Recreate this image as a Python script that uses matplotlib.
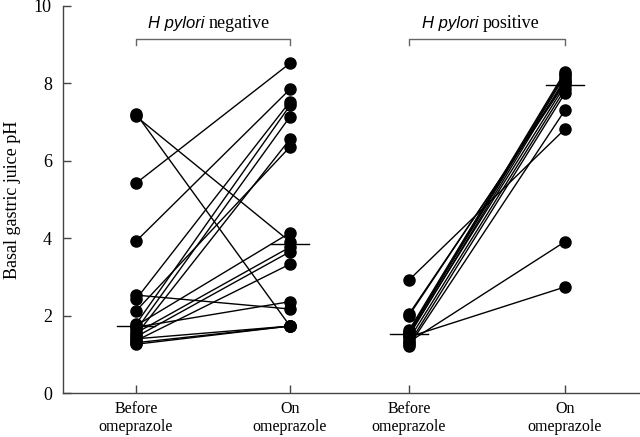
import numpy as np
import matplotlib
matplotlib.use("Agg")
import matplotlib.pyplot as plt

# ---- data (basal gastric juice pH, paired before / on omeprazole) ----
neg_before = [7.22, 7.15, 5.42, 3.92, 2.53, 2.42, 2.12, 1.78, 1.74,
              1.70, 1.62, 1.55, 1.50, 1.45, 1.40, 1.35, 1.30, 1.26]
neg_on = [1.73, 3.91, 8.52, 7.85, 2.17, 7.53, 6.36, 7.43, 4.14,
          2.36, 7.14, 3.77, 6.56, 3.65, 1.73, 3.33, 1.73, 1.73]

pos_before = [2.92, 2.04, 2.00, 1.62, 1.58, 1.55, 1.52, 1.48, 1.45,
              1.38, 1.32, 1.27, 1.22]
pos_on = [6.82, 8.00, 8.05, 8.30, 8.25, 8.20, 7.95, 8.12, 2.74,
          7.85, 3.91, 7.75, 7.31]

tick_labels = ["Before\nomeprazole", "On\nomeprazole",
               "Before\nomeprazole", "On\nomeprazole"]
group_names = ["negative", "positive"]

# x positions of the four columns (layout only)
xpos = [73, 227, 346, 502]

serif = ["Liberation Serif", "DejaVu Serif"]
sans = ["Liberation Sans", "DejaVu Sans"]
axcol = "#444444"

fig = plt.figure(figsize=(6.4, 4.37), dpi=100)
ax = fig.add_axes([63 / 640, 1 - 393 / 437, 1 - 63 / 640, (393 - 6) / 437])

groups = [(neg_before, neg_on, xpos[0], xpos[1]),
          (pos_before, pos_on, xpos[2], xpos[3])]

for before, after, x0, x1 in groups:
    for b, a in zip(before, after):
        ax.plot([x0, x1], [b, a], color="black", lw=1.0, zorder=2)
    ax.plot([x0] * len(before), before, "o", color="black", ms=8, zorder=3)
    ax.plot([x1] * len(after), after, "o", color="black", ms=8, zorder=3)
    # medians
    for x, vals in ((x0, before), (x1, after)):
        m = np.median(vals)
        ax.plot([x - 19, x + 19], [m, m], color="black", lw=1.0, zorder=4)

# brackets + group labels
for (x0, x1), name in zip([(xpos[0], xpos[1]), (xpos[2], xpos[3])], group_names):
    ax.plot([x0, x0, x1, x1], [8.98, 9.15, 9.15, 8.98], color="#666666", lw=1.0,
            clip_on=False)
    xc = (x0 + x1) / 2
    ax.text(xc - 4, 9.55, "H pylori ", family=sans, style="italic",
            fontsize=12, ha="right", va="center")
    ax.text(xc - 4, 9.55, name, family=serif, fontsize=13, ha="left", va="center")

ax.set_xlim(0, 577)
ax.set_ylim(0, 10)
ax.set_yticks([0, 2, 4, 6, 8, 10])
ax.set_xticks(xpos)
ax.set_xticklabels(tick_labels, family=serif, fontsize=11.5, linespacing=1.15)
for lab in ax.get_yticklabels():
    lab.set_family(serif)
    lab.set_fontsize(13)
ax.set_ylabel("Basal gastric juice pH", family=serif, fontsize=13, labelpad=9)

for side in ("top", "right"):
    ax.spines[side].set_visible(False)
for side in ("left", "bottom"):
    ax.spines[side].set_color(axcol)
    ax.spines[side].set_linewidth(1.0)
ax.tick_params(direction="in", length=6, color=axcol, width=1.0, pad=8)
ax.tick_params(axis="x", pad=6)

fig.savefig("out.png", dpi=100)
